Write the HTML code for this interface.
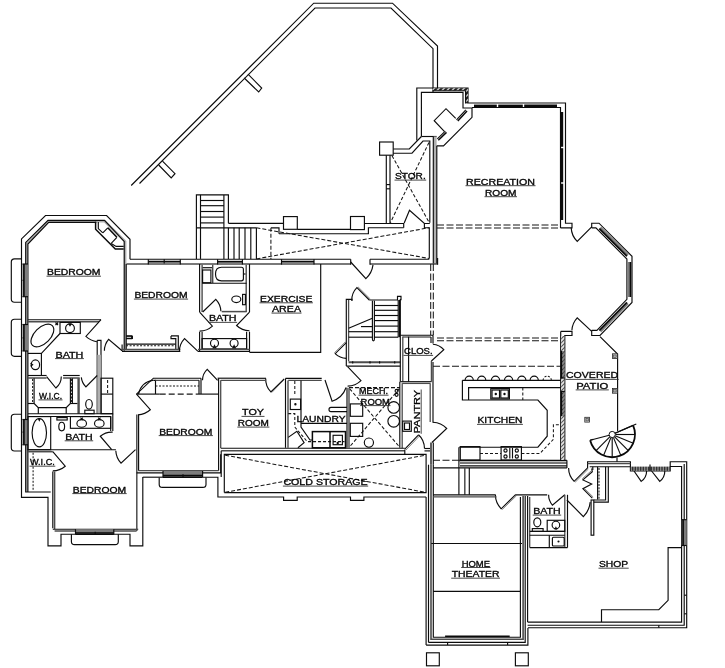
<!DOCTYPE html>
<html><head><meta charset="utf-8"><title>Basement floor plan</title>
<style>
html,body{margin:0;padding:0;background:#fff}
svg{display:block;filter:grayscale(1)}
.l{fill:none;stroke:#0c0c0c;stroke-width:1.15;stroke-linejoin:miter}
.i{fill:none;stroke:#4c4c4c}
.t{fill:none;stroke:#555;stroke-width:0.7}
.d{fill:none;stroke:#161616;stroke-width:1.05}
.k{fill:none;stroke:#0a0a0a}
.k2{fill:none;stroke:#0a0a0a;stroke-width:1.5}
.u{fill:none;stroke:#2a2a2a;stroke-width:0.85}
.g{fill:#b5b5b5;stroke:none}
.wg{fill:none;stroke:#7c7c7c}
.wg2{fill:none;stroke:#b0b0b0}
.h{fill:#6a6a6a;stroke:none}
.h2{fill:#4a4a4a;stroke:none}
.p{fill:#fff;stroke:#222;stroke-width:0.8}
.p2{fill:#aaa;stroke:#333;stroke-width:0.6}
.w{fill:#fff;stroke:#141414;stroke-width:1.0}
text{font-family:"Liberation Sans",sans-serif;fill:#050505;stroke:#050505;stroke-width:0.3}
</style></head><body>
<svg width="725" height="668" viewBox="0 0 725 668">
<defs><pattern id="hat" width="5" height="5" patternUnits="userSpaceOnUse"><rect width="5" height="5" fill="#c4c4c4"/><path d="M-1 1 L1 -1 M0 5 L5 0 M4 6 L6 4" stroke="#1a1a1a" stroke-width="2"/></pattern><pattern id="hat2" width="4" height="4" patternUnits="userSpaceOnUse"><rect width="4" height="4" fill="#e6e6e6"/><path d="M-1 1 L1 -1 M0 4 L4 0 M3 5 L5 3" stroke="#555" stroke-width="1.1"/></pattern><pattern id="hat3" width="1.6" height="4" patternUnits="userSpaceOnUse"><rect width="1.6" height="4" fill="#aaa"/><rect width="0.9" height="4" fill="#222"/></pattern></defs>
<rect x="0" y="0" width="725" height="668" fill="#fff"/>
<path class="l" d="M131.2 185.5 L313.7 3.2 L392.5 3.2 L437.5 46.0 L437.5 88.0" />
<path class="l" d="M139.5 183.5 L315.0 8.0 L391.0 8.0 L433.0 48.7 L433.0 92.4" />
<path class="l" d="M158.7 165.0 L171.2 178.0 L175.0 173.7 L162.5 161.2" />
<path class="l" d="M244.2 78.0 L258.7 92.0 L261.7 88.0 L248.0 74.2" />
<path class="l" d="M393.2 149.0 L409.3 149.0 L421.4 136.5" />
<path class="l" d="M416.8 140.5 L416.8 88.0 L468.0 88.0 L468.0 103.0 L565.5 103.0 L565.5 223.2 L572.0 223.2 L572.0 227.9 L560.5 227.9" />
<path class="l" d="M393.2 153.2 L412.0 153.2 L423.0 141.0 L429.8 141.0 L429.8 222.7" />
<path class="l" d="M421.4 136.5 L421.4 92.4 L463.0 92.4 L463.0 108.0 L472.0 108.0 L472.0 117.3 L443.5 145.8 L436.6 145.8" />
<path class="l" d="M421.4 136.5 L436.6 136.5" />
<path class="l" d="M472.0 107.5 L560.5 107.5 L560.5 227.9" />
<rect fill="url(#hat)" x="432.5" y="88.3" width="35.5" height="2.2"/>
<rect fill="url(#hat)" x="465.8" y="88.3" width="2.2" height="15"/>
<path class="l" d="M432.5 90.7 L465.6 90.7 L465.6 103.4" />
<path class="l" d="M455.7 118.3 L446.0 108.7 L434.2 120.7 L444.3 131.3" />
<path class="l" d="M456.5 119.8 L465.8 109.8" />
<path class="k2" d="M457.8 121.0 L467.0 111.0" />
<path class="l" d="M437.3 138.8 L445.3 131.2" />
<path class="k2" d="M438.3 140.2 L446.5 132.4" />
<path class="k" d="M474.0 106.0 L496.8 106.0" stroke-width="2.8"/>
<path class="k" d="M498.2 106.0 L522.8 106.0" stroke-width="2.8"/>
<path class="k" d="M524.2 106.0 L557.0 106.0" stroke-width="2.8"/>
<path class="k" d="M561.8 112.0 L561.8 146.8" stroke-width="2.8"/>
<path class="k" d="M561.8 148.2 L561.8 182.3" stroke-width="2.8"/>
<path class="k" d="M561.8 183.7 L561.8 220.0" stroke-width="2.8"/>
<path class="wg2" d="M435.0 136.5 L435.0 264.0" stroke-width="3.3"/>
<path class="l" d="M433.3 136.5 L433.3 264.0" />
<path class="l" d="M436.8 145.8 L436.8 264.0" />
<path class="d" d="M437.0 225.0 L560.0 225.0" stroke-dasharray="7 2.5"/>
<path class="d" d="M437.0 228.0 L560.0 228.0" stroke-dasharray="7 2.5"/>
<text x="466.0" y="184.6" textLength="69.0" lengthAdjust="spacingAndGlyphs" font-size="8.2">RECREATION</text>
<path class="u" d="M465.5 185.7 L535.5 185.7" />
<text x="485.0" y="195.6" textLength="31.5" lengthAdjust="spacingAndGlyphs" font-size="8.2">ROOM</text>
<path class="u" d="M484.5 196.7 L517.0 196.7" />
<rect class="l" x="379.6" y="142.0" width="13.6" height="13.2" rx="0"/>
<path class="l" d="M386.3 155.2 L386.3 223.5" />
<path class="l" d="M390.0 155.2 L390.0 223.5" />
<path class="l" d="M386.3 184.6 L390.0 184.6" />
<path class="l" d="M386.3 188.8 L390.0 188.8" />
<path class="d" d="M392.0 155.7 L429.3 222.7" stroke-dasharray="3.5 2"/>
<path class="d" d="M429.0 142.4 L390.4 222.7" stroke-dasharray="3.5 2"/>
<text x="395.0" y="179.0" textLength="30.7" lengthAdjust="spacingAndGlyphs" font-size="8.2">STOR.</text>
<path class="u" d="M394.5 180.1 L426.2 180.1" />
<path class="l" d="M364.4 223.5 L403.7 223.5 L403.7 227.7" />
<path class="l" d="M404.2 223.0 L409.5 210.3 L424.4 223.5 L429.8 223.5" />
<path class="l" d="M424.4 223.5 L424.4 227.7 L429.3 227.7 L429.3 258.5" />
<path class="l" d="M279.0 233.7 L368.4 233.7 L368.4 227.7 L403.7 227.7" />
<rect class="l" x="283.5" y="216.6" width="13.8" height="12.7" rx="0"/>
<rect class="l" x="350.5" y="216.5" width="13.9" height="13.1" rx="0"/>
<path class="l" d="M297.3 229.3 L350.5 229.3" />
<path class="l" d="M228.4 223.3 L283.5 223.3" />
<path class="l" d="M196.4 258.9 L196.4 194.9 L228.4 194.9 L228.4 223.3" />
<path class="l" d="M200.5 194.9 L200.5 258.9" />
<path class="l" d="M223.9 194.9 L223.9 258.9" />
<path class="l" d="M200.5 200.5 L223.9 200.5" />
<path class="l" d="M200.5 205.7 L223.9 205.7" />
<path class="l" d="M200.5 211.5 L223.9 211.5" />
<path class="l" d="M200.5 217.1 L223.9 217.1" />
<path class="l" d="M200.5 222.9 L223.9 222.9" />
<path class="l" d="M196.4 227.8 L256.4 227.8" />
<path class="l" d="M271.0 227.8 L279.0 227.8 L279.0 233.7" />
<path class="l" d="M228.4 227.8 L228.4 258.9" />
<path class="l" d="M234.0 227.8 L234.0 258.9" />
<path class="l" d="M239.2 227.8 L239.2 258.9" />
<path class="l" d="M245.0 227.8 L245.0 258.9" />
<path class="l" d="M250.8 227.8 L250.8 258.9" />
<path class="l" d="M256.4 227.8 L256.4 258.9" />
<path class="d" d="M270.9 227.8 L270.9 258.9" stroke-dasharray="4 2"/>
<path class="d" d="M256.4 227.8 L429.3 258.5" stroke-dasharray="4 2"/>
<path class="d" d="M256.4 258.9 L429.3 227.7" stroke-dasharray="4 2"/>
<path class="l" d="M130.0 259.2 L350.7 259.2" />
<path class="l" d="M370.0 259.2 L429.3 259.2" />
<path class="i" d="M126.2 264.1 L350.7 264.1" stroke-width="1.5"/>
<path class="l" d="M350.7 264.8 L350.7 259.2" />
<path class="i" d="M370.0 264.1 L437.6 264.1" stroke-width="1.5"/>
<path class="l" d="M370.0 259.2 L370.0 264.8" />
<path class="l" d="M437.6 264.8 L437.6 258.0" />
<path class="wg" d="M148.3 263.4 L180.3 263.4" stroke-width="2.4"/>
<path class="k" d="M148.3 261.6 L180.3 261.6" stroke-width="1.5"/>
<path class="l" d="M148.3 259.2 L148.3 264.6" />
<path class="l" d="M180.3 259.2 L180.3 264.6" />
<path class="wg" d="M217.6 263.4 L242.4 263.4" stroke-width="2.4"/>
<path class="k" d="M217.6 261.6 L242.4 261.6" stroke-width="1.5"/>
<path class="l" d="M217.6 259.2 L217.6 264.6" />
<path class="l" d="M242.4 259.2 L242.4 264.6" />
<path class="wg" d="M281.5 263.4 L314.0 263.4" stroke-width="2.4"/>
<path class="k" d="M281.5 261.6 L314.0 261.6" stroke-width="1.5"/>
<path class="l" d="M281.5 259.2 L281.5 264.6" />
<path class="l" d="M314.0 259.2 L314.0 264.6" />
<path class="l" d="M164.2 259.2 L164.2 263.4" />
<path class="l" d="M350.7 262.0 L365.9 278.6 A22.5 22.5 0 0 0 373.0 264.9"/>
<path class="d" d="M430.7 264.0 L430.7 335.0" stroke-dasharray="7 2.5"/>
<path class="d" d="M433.3 264.0 L433.3 335.0" stroke-dasharray="7 2.5"/>
<path class="l" d="M130.0 259.2 L130.0 239.3 L106.6 215.5 L45.5 215.5 L21.5 238.9 L21.5 497.4 L48.0 497.4 L48.0 545.8 L61.0 545.8 L61.0 534.2 L130.0 534.2 L130.0 545.8 L142.8 545.8 L142.8 477.0" />
<path class="wg2" d="M125.2 349.0 L125.2 241.6 L104.7 221.3 L48.3 221.3 L26.8 243.0 L26.8 492.0" stroke-width="2.4"/>
<path class="l" d="M124.2 350.7 L124.2 241.4 L104.5 220.3 L48.0 220.3 L25.7 242.4 L25.7 492.0 L50.7 492.0" />
<path class="l" d="M126.2 264.1 L126.2 349.3" />
<path class="l" d="M27.9 492.0 L27.9 244.0 L48.7 222.3 L96.2 222.3" />
<path class="l" d="M21.5 258.8 L14.5 258.8 Q11.3 258.8 11.3 262.0 L11.3 299.0 Q11.3 302.2 14.5 302.2 L21.5 302.2"/>
<path class="l" d="M21.5 319.2 L14.5 319.2 Q11.3 319.2 11.3 322.4 L11.3 353.1 Q11.3 356.3 14.5 356.3 L21.5 356.3"/>
<path class="l" d="M21.5 414.2 L14.5 414.2 Q11.3 414.2 11.3 417.4 L11.3 447.8 Q11.3 451 14.5 451 L21.5 451"/>
<path class="wg" d="M25.2 264.0 L25.2 296.7" stroke-width="5.6"/>
<path class="k" d="M23.9 264.0 L23.9 296.7" stroke-width="1.6"/>
<path class="l" d="M28.0 264.0 L22.4 264.0" />
<path class="l" d="M28.0 296.7 L22.4 296.7" />
<path class="l" d="M22.6 280.4 L24.0 280.4" />
<path class="wg" d="M25.2 324.5 L25.2 351.0" stroke-width="5.6"/>
<path class="k" d="M23.9 324.5 L23.9 351.0" stroke-width="1.6"/>
<path class="l" d="M28.0 324.5 L22.4 324.5" />
<path class="l" d="M28.0 351.0 L22.4 351.0" />
<path class="l" d="M22.6 337.8 L24.0 337.8" />
<path class="wg" d="M25.2 419.5 L25.2 444.8" stroke-width="5.6"/>
<path class="k" d="M23.9 419.5 L23.9 444.8" stroke-width="1.6"/>
<path class="l" d="M28.0 419.5 L22.4 419.5" />
<path class="l" d="M28.0 444.8 L22.4 444.8" />
<path class="l" d="M22.6 432.1 L24.0 432.1" />
<path class="k2" d="M95.6 221.8 L95.6 229.3 L115.3 249.1 L123.7 249.1" />
<path class="l" d="M98.3 222.1 L98.3 228.6 L102.8 232.8" />
<path class="l" d="M111.2 243.4 L116.1 246.4 L123.7 246.4" />
<path class="l" d="M102.8 232.8 L107.8 227.8" />
<path class="l" d="M116.9 237.3 L111.2 243.4" />
<path class="k" d="M107.8 227.8 L116.9 237.3" stroke-width="1.6"/>
<text x="47.0" y="275.1" textLength="53.5" lengthAdjust="spacingAndGlyphs" font-size="8.2">BEDROOM</text>
<path class="u" d="M46.5 276.2 L101.0 276.2" />
<path class="l" d="M28.0 319.7 L101.0 319.7" />
<path class="i" d="M28.0 321.7 L99.0 321.7" stroke-width="1.5"/>
<path class="l" d="M101.0 319.7 L85.9 336.4 A22.5 22.5 0 0 0 96.9 341.8"/>
<rect class="l" x="60.0" y="322.4" width="20.3" height="11.1" rx="0"/>
<circle class="l" cx="70.0" cy="328.3" r="4.4"/>
<path class="l" d="M68.8 323.6 L70.0 325.6 L71.2 323.6" />
<path class="l" d="M55.5 322.5 L58.0 325.0" />
<path class="l" d="M58.0 322.5 L55.5 325.0" />
<ellipse class="l" cx="42.4" cy="335.5" rx="14.0" ry="8.0" transform="rotate(-45 42.4 335.5)"/>
<path class="l" d="M60.0 333.5 L41.4 353.4 L41.4 375.5" />
<path class="l" d="M28.0 353.4 L41.4 353.4" />
<ellipse class="l" cx="35.4" cy="364.8" rx="4.2" ry="4.9" transform="rotate(0 35.4 364.8)"/>
<path class="l" d="M30.6 363.3 L32.6 364.8 L30.6 366.3" />
<path class="l" d="M97.2 340.3 L97.2 413.7" />
<path class="l" d="M122.1 350.7 L108.6 339.3 A17.7 17.7 0 0 0 104.4 350.7"/>
<path class="l" d="M97.2 340.3 L101.0 340.3 L101.0 413.7" />
<path class="wg2" d="M99.1 354.8 L99.1 413.7" stroke-width="3.6"/>
<path class="l" d="M122.1 350.7 L122.1 344.5" />
<path class="l" d="M126.2 336.2 L132.4 336.2 L132.4 338.3 L126.2 338.3" />
<text x="55.5" y="357.5" textLength="27.9" lengthAdjust="spacingAndGlyphs" font-size="8.2">BATH</text>
<path class="u" d="M55.0 358.6 L83.9 358.6" />
<path class="l" d="M28.0 375.5 L46.6 375.5" />
<path class="l" d="M46.6 376.6 L55.9 388.0 A14.7 14.7 0 0 0 61.3 376.6"/>
<path class="l" d="M63.1 375.5 L79.7 375.5" />
<path class="l" d="M97.2 375.5 L85.9 386.9 A16.1 16.1 0 0 1 81.3 377.4"/>
<path class="i" d="M28.0 378.0 L46.6 378.0" stroke-width="1.5"/>
<path class="i" d="M63.1 378.0 L79.7 378.0" stroke-width="1.5"/>
<path class="l" d="M34.1 378.2 L34.1 403.5 L38.3 407.6 L66.2 407.6 L70.4 403.5 L70.4 378.2" />
<path class="l" d="M28.0 403.5 L34.1 403.5" />
<path class="l" d="M70.4 403.5 L77.6 403.5" />
<path class="l" d="M72.4 378.2 L72.4 403.5" />
<path class="d" d="M32.6 379.0 L32.6 403.0" stroke-dasharray="2 1.5"/>
<path class="d" d="M71.4 379.0 L71.4 403.0" stroke-dasharray="2 1.5"/>
<path class="i" d="M78.6 378.2 L78.6 413.7" stroke-width="2.4"/>
<path class="l" d="M38.3 407.6 L38.3 413.7" />
<path class="l" d="M66.2 407.6 L66.2 413.7" />
<text x="39.0" y="398.9" textLength="23.0" lengthAdjust="spacingAndGlyphs" font-size="8.2">W.I.C.</text>
<path class="u" d="M38.5 399.9 L62.5 399.9" />
<ellipse class="l" cx="89.0" cy="404.3" rx="3.3" ry="4.8" transform="rotate(0 89.0 404.3)"/>
<rect class="l" x="84.8" y="410.2" width="9.3" height="3.5" rx="0"/>
<rect class="l" x="101.0" y="378.2" width="11.8" height="35.5" rx="0"/>
<path class="l" d="M101.0 394.1 L112.8 394.1" />
<path class="d" d="M107.6 380.0 L107.6 393.0" stroke-dasharray="3 2"/>
<path class="l" d="M28.0 413.7 L112.8 413.7" />
<path class="l" d="M28.0 416.5 L110.7 416.5" />
<rect class="l" x="28.0" y="416.6" width="22.7" height="33.1" rx="0"/>
<ellipse class="l" cx="39.3" cy="432.7" rx="7.2" ry="14.2" transform="rotate(0 39.3 432.7)"/>
<path class="l" d="M38.3 418.5 L39.3 420.5 L40.3 418.5" />
<ellipse class="l" cx="61.7" cy="426.5" rx="2.9" ry="4.3" transform="rotate(0 61.7 426.5)"/>
<rect class="l" x="56.9" y="417.6" width="10.3" height="2.4" rx="0"/>
<rect class="l" x="70.4" y="416.6" width="40.3" height="11.7" rx="0"/>
<ellipse class="l" cx="81.7" cy="423.4" rx="4.8" ry="3.8" transform="rotate(0 81.7 423.4)"/>
<ellipse class="l" cx="99.3" cy="423.4" rx="4.8" ry="3.8" transform="rotate(0 99.3 423.4)"/>
<path class="l" d="M80.5 417.6 L82.9 420.0" />
<path class="l" d="M82.9 417.6 L80.5 420.0" />
<path class="l" d="M98.1 417.6 L100.5 420.0" />
<path class="l" d="M100.5 417.6 L98.1 420.0" />
<path class="l" d="M110.7 416.5 L110.7 431.0" />
<path class="l" d="M112.8 413.7 L112.8 431.0" />
<path class="l" d="M111.7 449.7 L100.3 436.2 A17.7 17.7 0 0 1 112.7 432.1"/>
<path class="l" d="M28.0 449.7 L115.9 449.7" />
<path class="l" d="M135.5 449.7 L121.0 463.1 A19.7 19.7 0 0 1 115.8 450.7"/>
<path class="i" d="M28.0 451.7 L52.8 451.7" stroke-width="1.5"/>
<path class="l" d="M52.8 451.7 L65.2 466.2 A19.1 19.1 0 0 1 52.8 470.8"/>
<path class="l" d="M52.8 471.4 L52.8 528.3" />
<path class="i" d="M54.6 471.4 L54.6 529.0" stroke-width="1.5"/>
<path class="d" d="M33.1 452.8 L33.1 491.0" stroke-dasharray="2 1.5"/>
<text x="65.2" y="439.7" textLength="27.5" lengthAdjust="spacingAndGlyphs" font-size="8.2">BATH</text>
<path class="u" d="M64.7 440.8 L93.2 440.8" />
<text x="30.0" y="465.2" textLength="24.8" lengthAdjust="spacingAndGlyphs" font-size="8.2">W.I.C.</text>
<path class="u" d="M29.5 466.2 L55.3 466.2" />
<path class="l" d="M52.8 529.2 L138.2 529.2" />
<path class="i" d="M54.6 531.0 L136.6 531.0" stroke-width="1.5"/>
<path class="i" d="M136.8 414.5 L136.8 531.0" stroke-width="1.5"/>
<path class="l" d="M138.6 414.8 L138.6 470.7" />
<path class="wg" d="M75.5 531.8 L113.8 531.8" stroke-width="5.2"/>
<path class="k" d="M75.5 533.0 L113.8 533.0" stroke-width="1.6"/>
<path class="l" d="M75.5 529.2 L75.5 534.4" />
<path class="l" d="M113.8 529.2 L113.8 534.4" />
<path class="l" d="M95.2 531.8 L95.2 534.4" />
<path class="l" d="M75.5 534.4 L113.8 534.4" />
<path class="l" d="M71.4 534.2 L71.4 541.4 Q71.4 544.6 74.6 544.6 L115.1 544.6 Q118.3 544.6 118.3 541.4 L118.3 534.2"/>
<text x="72.8" y="492.5" textLength="53.4" lengthAdjust="spacingAndGlyphs" font-size="8.2">BEDROOM</text>
<path class="u" d="M72.3 493.6 L126.7 493.6" />
<path class="l" d="M199.6 264.1 L199.6 312.1" />
<path class="l" d="M199.6 312.1 L212.4 326.1 A19.0 19.0 0 0 1 199.6 331.1"/>
<path class="l" d="M199.6 331.7 L199.6 351.4" />
<path class="i" d="M202.1 264.8 L202.1 312.1" stroke-width="1.4"/>
<path class="l" d="M202.7 312.0 L215.8 299.3 A18.2 18.2 0 0 1 220.9 311.3"/>
<path class="l" d="M126.1 335.9 L131.7 335.9 L131.7 338.6 L126.1 338.6" />
<path class="l" d="M171.0 335.9 L178.3 335.9 L178.3 349.3" />
<path class="l" d="M171.0 335.9 L171.0 338.6 L175.8 338.6 L175.8 349.3" />
<path class="l" d="M126.1 344.1 L175.8 344.1" />
<path class="d" d="M126.1 345.8 L175.8 345.8" stroke-dasharray="2 1.5"/>
<path class="i" d="M122.0 349.5 L180.3 349.5" stroke-width="1.4"/>
<path class="l" d="M122.0 351.4 L180.3 351.4" />
<path class="l" d="M198.0 351.4 L184.5 338.6 A18.6 18.6 0 0 0 179.4 351.4"/>
<path class="l" d="M198.0 351.4 L249.7 351.4" />
<text x="134.4" y="298.0" textLength="53.2" lengthAdjust="spacingAndGlyphs" font-size="8.2">BEDROOM</text>
<path class="u" d="M133.9 299.1 L188.1 299.1" />
<path class="i" d="M246.2 264.8 L246.2 312.0" stroke-width="1.4"/>
<path class="l" d="M249.5 264.1 L249.5 312.1" />
<path class="l" d="M249.5 312.1 L236.6 325.5 A18.6 18.6 0 0 0 249.5 330.7"/>
<path class="l" d="M249.5 331.7 L249.5 352.4" />
<rect class="l" x="202.6" y="270.0" width="8.3" height="12.7" rx="0"/>
<path class="l" d="M202.6 267.7 L212.0 267.7" />
<path class="i" d="M212.7 264.8 L212.7 283.0" stroke-width="1.4"/>
<path class="l" d="M241.4 267.2 L221.5 267.2 Q215.5 267.2 215.5 274 Q215.5 280.8 221.5 280.8 L241.4 280.8 Q243.4 280.8 243.4 278.8 L243.4 269.2 Q243.4 267.2 241.4 267.2 Z"/>
<path class="l" d="M243.4 274.0 L245.5 274.0" />
<path class="l" d="M202.1 283.2 L246.6 283.2" />
<ellipse class="l" cx="236.3" cy="299.3" rx="4.5" ry="3.3" transform="rotate(0 236.3 299.3)"/>
<rect class="l" x="242.6" y="294.4" width="2.8" height="10.3" rx="0"/>
<path class="i" d="M221.7 311.6 L246.6 311.6" stroke-width="1.5"/>
<text x="208.9" y="321.4" textLength="27.7" lengthAdjust="spacingAndGlyphs" font-size="8.2">BATH</text>
<path class="u" d="M208.4 322.4 L237.1 322.4" />
<rect class="l" x="202.1" y="338.6" width="44.5" height="10.3" rx="0"/>
<circle class="l" cx="214.5" cy="343.2" r="4.0"/>
<circle class="l" cx="234.1" cy="343.2" r="4.0"/>
<path class="l" d="M213.3 348.0 L214.5 345.5 L215.7 348.0 Z" />
<path class="l" d="M232.9 348.0 L234.1 345.5 L235.3 348.0 Z" />
<path class="l" d="M202.1 331.7 L202.1 348.9" />
<path class="l" d="M246.6 331.7 L246.6 348.9" />
<path class="i" d="M198.0 349.4 L249.7 349.4" stroke-width="1.3"/>
<path class="l" d="M320.7 264.1 L320.7 352.4 L249.7 352.4" />
<text x="260.0" y="301.7" textLength="52.4" lengthAdjust="spacingAndGlyphs" font-size="8.2">EXERCISE</text>
<path class="u" d="M259.5 302.8 L312.9 302.8" />
<text x="272.0" y="312.0" textLength="29.0" lengthAdjust="spacingAndGlyphs" font-size="8.2">AREA</text>
<path class="u" d="M271.5 313.1 L301.5 313.1" />
<path class="l" d="M346.3 366.1 L346.3 299.3 L352.0 299.3 L352.0 300.7" />
<path class="l" d="M369.3 300.0 L356.9 287.6 A17.5 17.5 0 0 0 351.8 300.7"/>
<path class="t" d="M370.3 299.0 L358.0 286.8" />
<path class="l" d="M369.3 300.0 L397.5 300.0 L397.5 296.3 L401.0 296.3 L401.0 299.6 L400.3 299.6 L400.3 336.0" />
<path class="i" d="M348.6 300.0 L348.6 361.3" stroke-width="1.3"/>
<path class="k" d="M399.5 300.0 L399.5 337.2" stroke-width="1.3"/>
<path class="l" d="M398.2 300.0 L398.2 337.2" />
<path class="l" d="M372.4 300.7 L372.4 339 Q372.4 340.8 373.4 340.8 Q374.4 340.8 374.4 339 L374.4 300.7"/>
<path class="l" d="M374.4 305.5 L398.2 305.5" />
<path class="l" d="M374.4 310.3 L398.2 310.3" />
<path class="l" d="M374.4 315.5 L398.2 315.5" />
<path class="l" d="M374.4 320.6 L398.2 320.6" />
<path class="l" d="M374.4 326.1 L398.2 326.1" />
<path class="l" d="M374.4 331.7 L398.2 331.7" />
<path class="l" d="M374.4 337.2 L398.2 337.2" />
<path class="l" d="M348.6 328.2 L372.4 318.2" />
<path class="l" d="M361.0 326.6 L372.4 326.6" />
<path class="l" d="M348.6 331.7 L372.4 331.7" />
<path class="l" d="M348.6 337.2 L372.4 337.2" />
<path class="i" d="M348.6 362.2 L400.3 362.2" stroke-width="2.0"/>
<path class="l" d="M346.3 366.1 L400.3 366.1" />
<path class="l" d="M352.7 361.2 L352.7 363.4" />
<path class="l" d="M370.0 361.2 L370.0 363.4" />
<path class="l" d="M379.6 361.2 L379.6 363.4" />
<path class="l" d="M394.7 361.2 L394.7 363.4" />
<path class="l" d="M346.3 342.7 L335.2 353.7 A15.6 15.6 0 0 0 346.3 358.3"/>
<path class="t" d="M345.4 341.8 L334.4 352.8" />
<path class="l" d="M347.6 366.6 L361.0 380.7 A19.5 19.5 0 0 1 347.6 386.1"/>
<path class="l" d="M400.3 336.0 L400.3 381.7" />
<path class="i" d="M402.8 336.6 L402.8 381.7" stroke-width="1.3"/>
<path class="l" d="M400.3 335.2 L433.0 335.2 L433.0 343.4" />
<path class="l" d="M431.4 361.0 L443.8 349.7 A16.8 16.8 0 0 0 432.9 344.3"/>
<path class="i" d="M402.8 337.0 L431.0 337.0" stroke-width="1.3"/>
<path class="l" d="M431.0 337.0 L431.0 343.0" />
<path class="i" d="M431.4 361.0 L431.4 381.7" stroke-width="1.3"/>
<path class="l" d="M433.0 362.0 L433.0 422.7" />
<path class="l" d="M408.6 336.8 L408.6 381.7" />
<path class="l" d="M400.3 381.7 L431.4 381.7" />
<path class="i" d="M402.2 383.4 L430.2 383.4" stroke-width="1.3"/>
<text x="404.0" y="354.4" textLength="28.6" lengthAdjust="spacingAndGlyphs" font-size="8.2">CLOS.</text>
<path class="u" d="M403.5 355.4 L433.1 355.4" />
<path class="d" d="M437.0 337.9 L560.7 337.9" stroke-dasharray="7 2.5"/>
<path class="d" d="M437.0 340.8 L560.7 340.8" stroke-dasharray="7 2.5"/>
<path class="d" d="M433.0 366.2 L561.0 366.2" stroke-dasharray="7 2.5"/>
<path class="l" d="M284.2 379.0 L270.9 391.9 A18.5 18.5 0 0 1 265.7 378.4"/>
<path class="t" d="M283.3 380.5 L271.8 392.5" />
<path class="l" d="M285.5 378.4 L321.7 378.4" />
<path class="l" d="M325.0 380.0 L332.1 401.2 A22.4 22.4 0 0 0 346.1 387.5"/>
<path class="l" d="M347.0 387.8 L347.0 447.8" />
<path class="l" d="M285.5 378.4 L285.5 447.8" />
<path class="i" d="M288.0 380.5 L288.0 447.8" stroke-width="1.4"/>
<path class="i" d="M288.2 380.4 L321.7 380.4" stroke-width="1.3"/>
<path class="i" d="M349.0 387.8 L349.0 447.8" stroke-width="1.4"/>
<path class="l" d="M301.0 380.5 L301.0 427.0 L310.0 440.0 L312.4 440.0" />
<path class="d" d="M294.8 381.0 L294.8 394.0" stroke-dasharray="3 2"/>
<rect class="l" x="290.3" y="399.1" width="10.3" height="10.4" rx="0"/>
<circle class="l" cx="295.4" cy="404.3" r="0.6"/>
<path class="d" d="M288.2 413.6 L294.8 413.6 L294.8 427.0 L307.2 441.6 L344.5 441.6" stroke-dasharray="3 2"/>
<path class="l" d="M288.2 437.4 L296.9 431.2 L304.1 442.6 L297.9 447.8" />
<rect class="k2" x="312.4" y="431.6" width="33.1" height="16.2" rx="0"/>
<path class="k2" d="M330.0 431.6 L330.0 447.8" />
<rect class="l" x="333.1" y="435.3" width="9.3" height="9.4" rx="0"/>
<circle class="l" cx="337.7" cy="443.0" r="0.6"/>
<path class="l" d="M301.0 423.3 L347.0 423.3" />
<path class="l" d="M347 407.4 L331 407.4 Q329 407.4 329 409.5 Q329 411.6 331 411.6 L347 411.6"/>
<text x="296.5" y="421.9" textLength="49.0" lengthAdjust="spacingAndGlyphs" font-size="8.2">LAUNDRY</text>
<path class="d" d="M349.0 387.6 L400.0 387.6" stroke-dasharray="4 2"/>
<path class="d" d="M349.7 388.8 L399.3 446.7" stroke-dasharray="3.5 2"/>
<path class="d" d="M399.3 388.8 L349.7 446.7" stroke-dasharray="3.5 2"/>
<rect class="l" x="350.3" y="403.9" width="12.4" height="12.4" rx="0"/>
<rect class="l" x="350.3" y="423.3" width="12.4" height="13.1" rx="0"/>
<circle class="l" cx="393.7" cy="407.4" r="5.8"/>
<circle class="l" cx="393.7" cy="421.3" r="5.8"/>
<circle class="l" cx="368.9" cy="442.6" r="4.6"/>
<circle class="l" cx="396.6" cy="390.9" r="1.5"/>
<circle class="l" cx="396.6" cy="394.8" r="1.5"/>
<text x="359.0" y="394.1" textLength="29.0" lengthAdjust="spacingAndGlyphs" font-size="8.2">MECH.</text>
<path class="u" d="M358.5 395.2 L388.5 395.2" />
<text x="360.6" y="404.5" textLength="29.4" lengthAdjust="spacingAndGlyphs" font-size="8.2">ROOM</text>
<path class="u" d="M360.1 405.6 L390.5 405.6" />
<path class="l" d="M399.8 381.7 L399.8 447.8" />
<path class="i" d="M402.2 383.3 L402.2 448.3" stroke-width="1.3"/>
<path class="i" d="M430.2 383.3 L430.2 422.0" stroke-width="1.3"/>
<rect class="l" x="402.7" y="421.1" width="8.6" height="10.2" rx="0"/>
<rect class="l" x="404.5" y="423.0" width="5.0" height="6.5" rx="0"/>
<path class="l" d="M404.8 449.1 L418.5 434.8" />
<path class="t" d="M406.0 450.0 L419.5 436.0" />
<path class="l" d="M418.5 434.8 Q424.3 440 424.5 448.5"/>
<path class="l" d="M431.9 442.5 L446.7 428.5 A20.4 20.4 0 0 0 433.0 422.2"/>
<path class="i" d="M431.0 442.6 L431.0 464.8" stroke-width="1.8"/>
<path class="l" d="M433.3 442.6 L433.3 464.8" />
<text transform="translate(419.6 433.4) rotate(-90)" textLength="43.6" lengthAdjust="spacingAndGlyphs" font-size="8.2">PANTRY</text>
<path class="u" d="M421.2 389.5 L421.2 433.8" />
<path class="l" d="M136.5 394.1 L153.4 378.2 L201.0 378.2" />
<path class="l" d="M153.4 380.3 L155.5 380.3 L155.5 394.1" />
<path class="i" d="M155.5 380.3 L199.0 380.3" stroke-width="1.3"/>
<path class="l" d="M199.0 380.3 L199.0 394.1" />
<path class="l" d="M153.4 380.3 Q141 382 138.5 394.1"/>
<path class="l" d="M201.0 378.2 L201.0 394.1" />
<path class="d" d="M155.5 385.9 L199.0 385.9" stroke-dasharray="2 1.5"/>
<path class="d" d="M159.7 394.1 L195.9 394.1" stroke-dasharray="6 3"/>
<path class="l" d="M136.5 394.1 L159.7 394.1" />
<path class="l" d="M195.9 394.1 L218.6 394.1" />
<path class="l" d="M136.5 394.1 L150.3 409.7 A20.8 20.8 0 0 1 138.0 414.9"/>
<path class="l" d="M217.6 380.3 L207.2 369.3 A15.1 15.1 0 0 0 202.5 380.3"/>
<path class="l" d="M217.6 378.2 L240.0 378.2" />
<path class="l" d="M218.6 378.2 L218.6 470.7" />
<path class="i" d="M220.7 380.3 L220.7 448.0" stroke-width="1.3"/>
<path class="i" d="M220.7 380.3 L265.9 380.3" stroke-width="1.3"/>
<path class="l" d="M240.0 378.3 L266.0 378.3" />
<path class="i" d="M138.4 470.7 L218.6 470.7" stroke-width="1.3"/>
<path class="l" d="M136.6 472.8 L220.7 472.8 L220.7 454.2" />
<path class="wg" d="M163.0 474.2 L202.6 474.2" stroke-width="6.2"/>
<path class="k" d="M163.0 475.6 L202.6 475.6" stroke-width="1.6"/>
<path class="l" d="M163.0 471.1 L163.0 477.3" />
<path class="l" d="M202.6 471.1 L202.6 477.3" />
<path class="l" d="M183.0 474.2 L183.0 477.4" />
<path class="l" d="M163.0 477.4 L202.6 477.4" />
<path class="l" d="M159.2 477.4 L159.2 484.4 Q159.2 487.4 162.4 487.4 L202.8 487.4 Q206 487.4 206 484.4 L206 477.4"/>
<path class="l" d="M142.8 477.2 L163.0 477.2" />
<path class="l" d="M202.6 477.2 L217.9 477.2 L217.9 497.0 L283.6 497.0 L283.6 500.3 L297.2 500.3 L297.2 497.0 L350.5 497.0 L350.5 500.3 L363.9 500.3 L363.9 497.0 L426.1 497.0" />
<text x="159.2" y="434.5" textLength="53.2" lengthAdjust="spacingAndGlyphs" font-size="8.2">BEDROOM</text>
<path class="u" d="M158.7 435.6 L212.9 435.6" />
<text x="242.0" y="415.4" textLength="22.0" lengthAdjust="spacingAndGlyphs" font-size="8.2">TOY</text>
<path class="u" d="M241.5 416.4 L264.5 416.4" />
<text x="237.8" y="426.0" textLength="31.1" lengthAdjust="spacingAndGlyphs" font-size="8.2">ROOM</text>
<path class="u" d="M237.3 427.1 L269.4 427.1" />
<path class="l" d="M220.7 448.2 L404.8 448.2" />
<path class="i" d="M221.2 450.7 L404.8 450.7" stroke-width="1.4"/>
<path class="l" d="M404.8 449.5 L404.8 454.4" />
<path class="l" d="M424.5 448.5 L430.0 448.5" />
<path class="l" d="M424.5 450.9 L430.0 450.9" />
<path class="l" d="M224.3 492.6 L224.3 454.4 L426.1 454.4 L426.1 492.6 L224.3 492.6" />
<path class="l" d="M221.2 450.7 L221.2 477.0" />
<path class="l" d="M426.1 497.0 L426.1 645.1" />
<path class="l" d="M428.5 464.7 L428.5 642.4" />
<path class="d" d="M225.2 455.2 L425.5 492.3" stroke-dasharray="4 2"/>
<path class="d" d="M225.2 492.3 L425.5 455.2" stroke-dasharray="4 2"/>
<text x="283.4" y="485.0" textLength="84.3" lengthAdjust="spacingAndGlyphs" font-size="8.2">COLD STORAGE</text>
<path class="u" d="M282.9 486.1 L368.2 486.1" />
<path class="l" d="M462.4 380.3 L560.7 380.3" />
<path class="l" d="M462.4 380.3 L462.4 400.0 L537.9 400.0 L547.2 410.3 L547.2 436.2 L537.9 447.2 L459.3 447.2" />
<path class="l" d="M468.6 400.0 L468.6 387.6 L560.7 387.6" />
<rect class="l" x="490.8" y="388.6" width="18.6" height="10.4" rx="0"/>
<rect class="l" x="492.0" y="390.0" width="7.5" height="8.0" rx="0"/>
<rect class="l" x="500.8" y="390.0" width="7.5" height="8.0" rx="0"/>
<circle class="l" cx="495.8" cy="394.0" r="0.6"/>
<circle class="l" cx="504.5" cy="394.0" r="0.6"/>
<path class="d" d="M522.8 387.6 L522.8 400.0" stroke-dasharray="3 2"/>
<path class="l" d="M465.09999999999997 380.3 A4.1 4.1 0 0 1 473.3 380.3"/>
<path class="l" d="M477.59999999999997 380.3 A4.1 4.1 0 0 1 485.8 380.3"/>
<path class="l" d="M491.4 380.3 A4.1 4.1 0 0 1 499.6 380.3"/>
<path class="l" d="M504.5 380.3 A4.1 4.1 0 0 1 512.7 380.3"/>
<path class="l" d="M517.6999999999999 380.3 A4.1 4.1 0 0 1 525.9 380.3"/>
<path class="l" d="M530.1 380.3 A4.1 4.1 0 0 1 538.3000000000001 380.3"/>
<path class="d" stroke-dasharray="2 1.5" d="M543.1 380.3 A4.1 4.1 0 0 1 551.3 380.3"/>
<rect class="l" x="460.3" y="446.6" width="19.7" height="13.4" rx="0"/>
<rect class="l" x="501.1" y="446.6" width="20.3" height="13.4" rx="0"/>
<circle class="l" cx="505.5" cy="450.5" r="1.6"/>
<circle class="l" cx="516.8" cy="450.5" r="1.6"/>
<circle class="l" cx="505.5" cy="456.5" r="1.6"/>
<circle class="l" cx="516.8" cy="456.5" r="1.6"/>
<path class="l" d="M509.8 448.0 L509.8 458.5" />
<path class="l" d="M512.5 448.0 L512.5 458.5" />
<path class="d" d="M480.0 453.4 L501.1 453.4" stroke-dasharray="3 2"/>
<path class="d" d="M521.4 453.4 L540.0 453.4 L553.4 439.3 L553.4 424.8 L560.7 424.8" stroke-dasharray="3 2"/>
<path class="l" d="M458.9 447.2 L458.9 494.8" />
<path class="k2" d="M459.3 460.5 L566.9 460.5" />
<path class="i" d="M460.0 463.0 L566.9 463.0" stroke-width="1.4"/>
<path class="l" d="M460.0 465.9 L566.9 465.9" />
<path class="l" d="M433.1 467.9 L566.9 467.9" />
<path class="d" d="M433.0 460.3 L459.3 460.3" stroke-dasharray="7 2.5"/>
<path class="i" d="M464.8 467.9 L464.8 494.8" stroke-width="1.5"/>
<path class="l" d="M469.3 467.9 L469.3 494.8" />
<text x="477.5" y="423.4" textLength="44.9" lengthAdjust="spacingAndGlyphs" font-size="8.2">KITCHEN</text>
<path class="u" d="M477.0 424.4 L522.9 424.4" />
<path class="l" d="M560.7 331.4 L572.0 331.4 L572.0 335.5 L564.8 335.5 L564.8 461.0" />
<path class="l" d="M560.7 331.4 L560.7 460.3" />
<rect fill="url(#hat2)" x="561.2" y="336" width="3.1" height="124"/>
<path class="k" d="M561.6 351.0 L561.6 378.0" stroke-width="1.7"/>
<path class="k" d="M561.6 391.4 L561.6 416.2" stroke-width="1.7"/>
<path class="t" d="M563.4 351.0 L563.4 378.0" />
<path class="t" d="M563.4 391.4 L563.4 416.2" />
<path class="l" d="M560.7 378.0 L564.8 378.0" />
<path class="l" d="M560.7 391.4 L564.8 391.4" />
<path class="l" d="M566.9 460.3 L566.9 467.9" />
<path class="l" d="M591.7 227.9 L591.7 223.2 L599.0 223.2 L632.0 256.3 L632.0 302.4 L600.0 335.5 L591.7 335.5 L591.7 330.3" />
<path class="l" d="M591.7 227.9 L595.9 227.9 L626.9 259.0 L626.9 299.3 L596.9 330.3 L591.7 330.3" />
<path class="wg" d="M600.0 228.0 L627.5 255.5" stroke-width="3.4"/>
<path class="k" d="M599.4 228.6 L626.9 256.1" stroke-width="1.6"/>
<path class="wg" d="M629.5 262.0 L629.5 297.0" stroke-width="4.2"/>
<path class="k" d="M630.5 262.0 L630.5 297.0" stroke-width="1.6"/>
<path class="wg" d="M600.0 331.0 L627.5 303.0" stroke-width="3.4"/>
<path class="k" d="M599.4 330.5 L626.9 302.5" stroke-width="1.6"/>
<path class="l" d="M591.7 226.9 L577.2 241.4 A20.5 20.5 0 0 1 571.2 227.9"/>
<path class="l" d="M591.7 331.4 L577.2 317.9 A19.8 19.8 0 0 0 571.9 330.3"/>
<path class="l" d="M600.0 336.6 L617.6 354.1 L617.6 431.0" />
<path class="l" d="M617.0 457.5 L617.0 461.7" />
<rect class="p" x="612.5" y="353.8" width="4.8" height="4.8" rx="0"/>
<rect class="p2" x="613.6" y="354.9" width="2.6" height="2.6" rx="0"/>
<rect class="p" x="612.5" y="388.4" width="4.8" height="4.8" rx="0"/>
<rect class="p2" x="613.6" y="389.5" width="2.6" height="2.6" rx="0"/>
<rect class="p" x="584.8" y="417.3" width="4.8" height="4.8" rx="0"/>
<rect class="p2" x="585.9" y="418.4" width="2.6" height="2.6" rx="0"/>
<text x="566.0" y="378.3" textLength="52.2" lengthAdjust="spacingAndGlyphs" font-size="8.2">COVERED</text>
<path class="u" d="M565.5 379.4 L618.7 379.4" />
<text x="576.2" y="388.9" textLength="32.1" lengthAdjust="spacingAndGlyphs" font-size="8.2">PATIO</text>
<path class="u" d="M575.7 389.9 L608.8 389.9" />
<path class="k" stroke-width="1.8" d="M633.1 425.4 A22.8 22.8 0 1 1 590.1 440.2"/>
<path class="l" d="M615.0 433.3 L633.1 425.4" />
<path class="l" d="M615.3 434.5 L635.0 434.5" />
<path class="l" d="M615.1 435.7 L633.3 443.2" />
<path class="l" d="M614.4 436.7 L628.3 450.6" />
<path class="l" d="M613.4 437.4 L620.9 455.6" />
<path class="l" d="M612.2 437.6 L612.2 457.3" />
<path class="l" d="M611.0 437.4 L603.5 455.6" />
<path class="l" d="M610.0 436.7 L596.1 450.6" />
<path class="l" d="M609.2 435.3 L590.1 440.2" />
<circle class="w" cx="612.2" cy="434.5" r="3.1"/>
<path class="l" d="M615.0 433.3 L636.3 424.0" />
<path class="l" d="M590.1 440.2 L593.2 439.4" />
<path class="l" d="M433.3 464.8 L433.3 637.2 L520.4 637.2 L520.4 496.9" />
<path class="i" d="M431.0 464.8 L431.0 639.3 L523.1 639.3 L523.1 495.9" stroke-width="1.6"/>
<path class="l" d="M428.5 642.4 L525.2 642.4 L525.2 495.9" />
<path class="l" d="M426.1 645.1 L527.9 645.1 L527.9 628.0" />
<path class="l" d="M433.1 494.8 L495.6 494.8" />
<path class="l" d="M515.6 494.6 L501.2 508.8 A20.2 20.2 0 0 1 495.4 494.8"/>
<path class="t" d="M516.4 495.8 L502.2 509.6" />
<path class="l" d="M515.4 494.8 L547.2 494.8" />
<path class="l" d="M564.8 494.8 L552.4 505.2 A16.2 16.2 0 0 1 548.6 494.8"/>
<path class="i" d="M433.1 496.9 L496.4 496.9" stroke-width="1.3"/>
<path class="l" d="M447.6 642.4 L447.6 645.1" />
<path class="l" d="M507.6 642.4 L507.6 645.1" />
<path class="l" d="M431.2 543.5 L522.0 543.5" />
<path class="l" d="M433.1 591.3 L520.4 591.3" />
<path class="k" d="M445.1 636.2 L509.7 636.2" stroke-width="1.6"/>
<rect class="l" x="426.5" y="652.8" width="12.8" height="13.0" rx="0"/>
<rect class="l" x="515.4" y="652.8" width="12.9" height="13.0" rx="0"/>
<text x="461.7" y="566.5" textLength="28.3" lengthAdjust="spacingAndGlyphs" font-size="8.2">HOME</text>
<path class="u" d="M461.2 567.5 L490.5 567.5" />
<text x="451.7" y="577.2" textLength="47.8" lengthAdjust="spacingAndGlyphs" font-size="8.2">THEATER</text>
<path class="u" d="M451.2 578.2 L500.0 578.2" />
<path class="l" d="M527.6 495.9 L527.6 622.1" />
<path class="i" d="M529.7 496.9 L529.7 547.6" stroke-width="1.3"/>
<path class="i" d="M564.8 494.8 L564.8 547.6" stroke-width="1.3"/>
<path class="l" d="M567.5 494.8 L567.5 547.6" />
<text x="533.2" y="514.1" textLength="27.5" lengthAdjust="spacingAndGlyphs" font-size="8.2">BATH</text>
<path class="u" d="M532.7 515.1 L561.2 515.1" />
<ellipse class="l" cx="537.3" cy="522.3" rx="3.5" ry="4.5" transform="rotate(0 537.3 522.3)"/>
<rect class="l" x="532.3" y="528.6" width="10.8" height="2.8" rx="0"/>
<rect class="l" x="547.2" y="520.3" width="17.6" height="11.1" rx="0"/>
<circle class="l" cx="555.9" cy="525.0" r="3.8"/>
<path class="l" d="M554.9 529.5 L555.9 527.5 L556.9 529.5" />
<path class="l" d="M529.7 531.4 L564.8 531.4" />
<path class="l" d="M529.7 535.2 L564.8 535.2" />
<path class="l" d="M529.7 547.6 L567.5 547.6" />
<path class="l" d="M549.3 535.2 L549.3 547.6" />
<rect class="l" x="552.4" y="537.2" width="11.8" height="8.8" rx="1"/>
<circle class="l" cx="558.5" cy="541.5" r="0.5"/>
<path class="l" d="M527.6 622.1 L681.6 622.1 L681.6 466.5 L670.2 466.5 L670.2 461.7 L686.7 461.7 L686.7 627.7 L527.9 627.7" />
<path class="l" d="M527.6 625.2 L684.2 625.2 L684.2 464.0" />
<path class="l" d="M658.8 625.2 L658.8 627.7" />
<path class="l" d="M684.2 595.2 L686.7 595.2" />
<path class="l" d="M684.2 613.8 L686.7 613.8" />
<path class="wg" d="M684.2 519.7 L684.2 545.5" stroke-width="5"/>
<path class="k" d="M683.1 519.7 L683.1 545.5" stroke-width="1.6"/>
<path class="l" d="M686.7 519.7 L681.7 519.7" />
<path class="l" d="M686.7 545.5 L681.7 545.5" />
<path class="l" d="M587.6 467.9 L587.6 461.7 L630.4 461.7 L630.4 471.0 L670.2 471.0 L670.2 466.5" />
<path class="i" d="M587.6 463.6 L630.4 463.6" stroke-width="1.3"/>
<path class="l" d="M589.7 466.7 L630.4 466.7" />
<rect fill="url(#hat3)" x="630.6" y="466.6" width="39.4" height="4.2"/>
<path class="l" d="M650.0 464.5 L650.0 471.0" />
<path class="l" d="M634.0 471.0 L641.2 481.4 A12.6 12.6 0 0 0 646.6 471.0"/>
<path class="l" d="M651.6 471.0 L659.8 481.4 A13.2 13.2 0 0 0 664.8 471.0"/>
<path class="l" d="M587.6 467.9 L574.2 481.3 A19.0 19.0 0 0 1 568.6 467.9"/>
<path class="t" d="M588.4 469.0 L575.2 482.2" />
<path class="l" d="M592.8 466.7 L592.8 470.0" />
<path class="l" d="M608.3 466.7 L608.3 502.1 L593.8 502.1" />
<path class="l" d="M605.6 466.7 L605.6 500.0 L593.8 500.0" />
<path class="d" d="M599.0 468.0 L599.0 499.5" stroke-dasharray="2 1.2"/>
<path class="l" d="M597.6 466.7 L597.6 499.5" />
<path class="l" d="M591.7 468.5 L592.3 471.8 L582.9 479.9 L591.7 484.0 L582.9 488.7 L592.3 498.1" />
<path class="t" d="M591.3 470.8 L582.3 478.7" />
<path class="t" d="M584.2 488.2 L593.2 497.0" />
<path class="l" d="M566.9 500.0 L583.4 516.6 A23.4 23.4 0 0 0 590.2 502.1"/>
<rect class="l" x="591.1" y="500.0" width="2.7" height="35.2" rx="0"/>
<path class="l" d="M681.6 547.6 L668.1 547.6 L668.1 600.3 L658.8 609.7 L601.5 609.7 L601.5 622.1" />
<text x="599.0" y="567.2" textLength="29.2" lengthAdjust="spacingAndGlyphs" font-size="8.2">SHOP</text>
<path class="u" d="M598.5 568.2 L628.7 568.2" />
</svg>
</body></html>
